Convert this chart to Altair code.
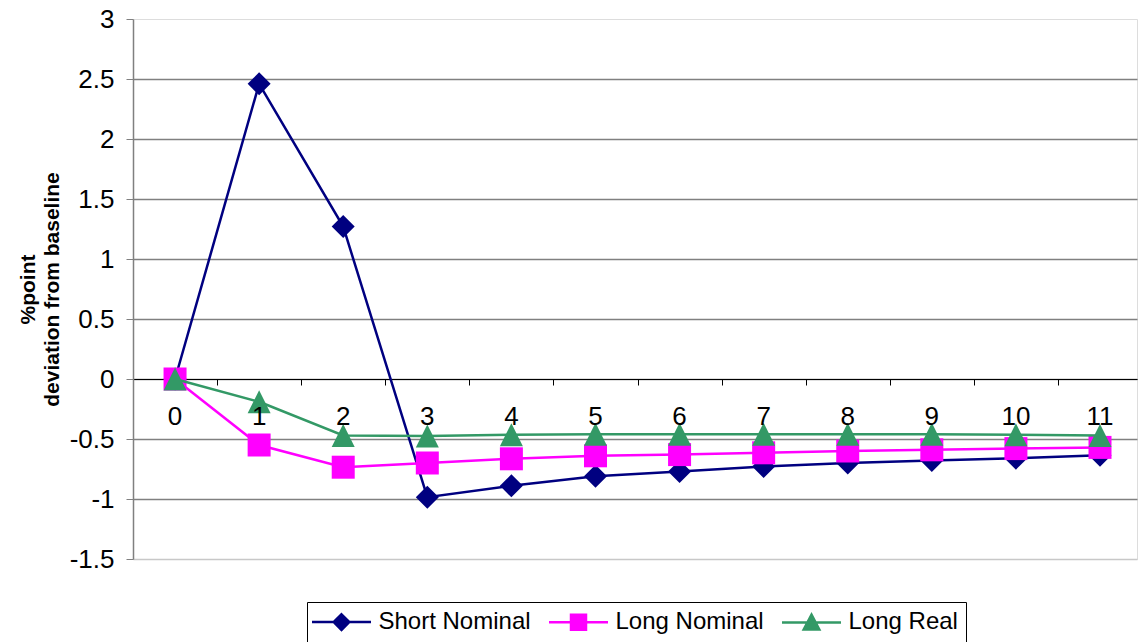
import altair as alt
import pandas as pd

periods = list(range(12))
series_names = ["Short Nominal", "Long Nominal", "Long Real"]
short_nominal = [0, 2.46, 1.27, -0.985, -0.89, -0.81, -0.77, -0.73, -0.70, -0.68, -0.66, -0.635]
long_nominal = [0, -0.55, -0.735, -0.70, -0.665, -0.64, -0.63, -0.615, -0.60, -0.59, -0.58, -0.57]
long_real = [0, -0.19, -0.47, -0.475, -0.465, -0.46, -0.46, -0.46, -0.46, -0.46, -0.465, -0.47]
y_ticks = [-1.5, -1, -0.5, 0, 0.5, 1, 1.5, 2, 2.5, 3]
x_tick_bounds = [i + 0.5 for i in range(11)]
colors = ["#000080", "#FF00FF", "#339966"]
marker_shapes = ["diamond", "square", "M0,-1L1,1L-1,1Z"]
legend_shapes = [
    "M-2.95,0H2.95M0,-0.78L0.78,0L0,0.78L-0.78,0Z",
    "M-2.95,0H2.95M-0.75,-0.75H0.75V0.75H-0.75Z",
    "M-2.95,0H2.95M0,-0.78L0.78,0.72L-0.78,0.72Z",
]

rows = []
for name, vals in zip(series_names, [short_nominal, long_nominal, long_real]):
    for t, v in zip(periods, vals):
        rows.append({"t": t, "value": v, "series": name})
df = pd.DataFrame(rows)
labels_df = pd.DataFrame({"t": periods, "label": [str(p) for p in periods]})

FONT = "Liberation Sans"

x_enc = alt.X(
    "t:Q",
    scale=alt.Scale(domain=[-0.5, 11.44], nice=False, zero=False),
    axis=alt.Axis(
        values=x_tick_bounds, labels=False, title=None, grid=False,
        domainColor="black", domainWidth=1, tickColor="black", tickSize=6,
        offset=-180,
    ),
)
y_enc = alt.Y(
    "value:Q",
    scale=alt.Scale(domain=[-1.5, 3], nice=False, zero=False),
    axis=alt.Axis(
        values=y_ticks,
        labelExpr="'' + datum.value",
        labelFontSize=26, labelColor="black", labelPadding=12, labelFont=FONT,
        tickSize=7, tickColor="#808080", domainColor="#808080", domainWidth=1.5,
        grid=True,
        gridColor={"condition": {"test": "datum.value === -1.5", "value": "#c8c8c8"}, "value": "#808080"},
        gridOpacity={"condition": {"test": "datum.value === 3", "value": 0}, "value": 1},
        gridWidth=1.5,
        title=["%point", "deviation from baseline"],
        titleFontSize=21, titleFontWeight="bold", titleFont=FONT, titleColor="black",
        titleAngle=-90, titleBaseline="bottom", titleAlign="center",
        titleLineHeight=24, titleX=-95, titleY=270,
    ),
)

layers = []
for name, col, shp in zip(series_names, colors, marker_shapes):
    base = alt.Chart(df).transform_filter(alt.datum.series == name)
    layers.append(base.mark_line(color=col, strokeWidth=2.5).encode(x=x_enc, y=y_enc))
    layers.append(
        base.mark_point(filled=True, color=col, shape=shp, size=529, opacity=1).encode(x=x_enc, y=y_enc)
    )

x_labels = alt.Chart(labels_df).mark_text(
    fontSize=26, font=FONT, color="black", baseline="middle", align="center", dy=38
).encode(x=x_enc, y=alt.datum(0), text="label:N")
layers.append(x_labels)

legend_def = dict(
    orient="none", legendX=174, legendY=583, direction="horizontal", columns=3,
    title=None, strokeColor="black", padding=8, labelFontSize=24, labelFont=FONT,
    labelColor="black", symbolSize=400, symbolStrokeWidth=2.5, columnPadding=13,
    symbolOffset=14.5, labelOffset=25, labelLimit=400, fillColor="white",
)
legend_layer = alt.Chart(df).transform_filter("false").mark_point(
    filled=True, strokeWidth=2.5, opacity=1
).encode(
    x=x_enc, y=y_enc,
    fill=alt.Fill("series:N", scale=alt.Scale(domain=series_names, range=colors), legend=alt.Legend(**legend_def)),
    stroke=alt.Stroke("series:N", scale=alt.Scale(domain=series_names, range=colors), legend=alt.Legend(**legend_def)),
    shape=alt.Shape("series:N", scale=alt.Scale(domain=series_names, range=legend_shapes), legend=alt.Legend(**legend_def)),
)
layers.append(legend_layer)

chart = alt.layer(*layers).properties(
    width=1004, height=540,
    autosize=alt.AutoSizeParams(type="none"),
    padding={"left": 133, "top": 19, "right": 1, "bottom": 83},
    background="white",
).configure_view(stroke=None).configure(font=FONT)

chart.save("out.html", embed_options={"renderer": "svg", "actions": False})
